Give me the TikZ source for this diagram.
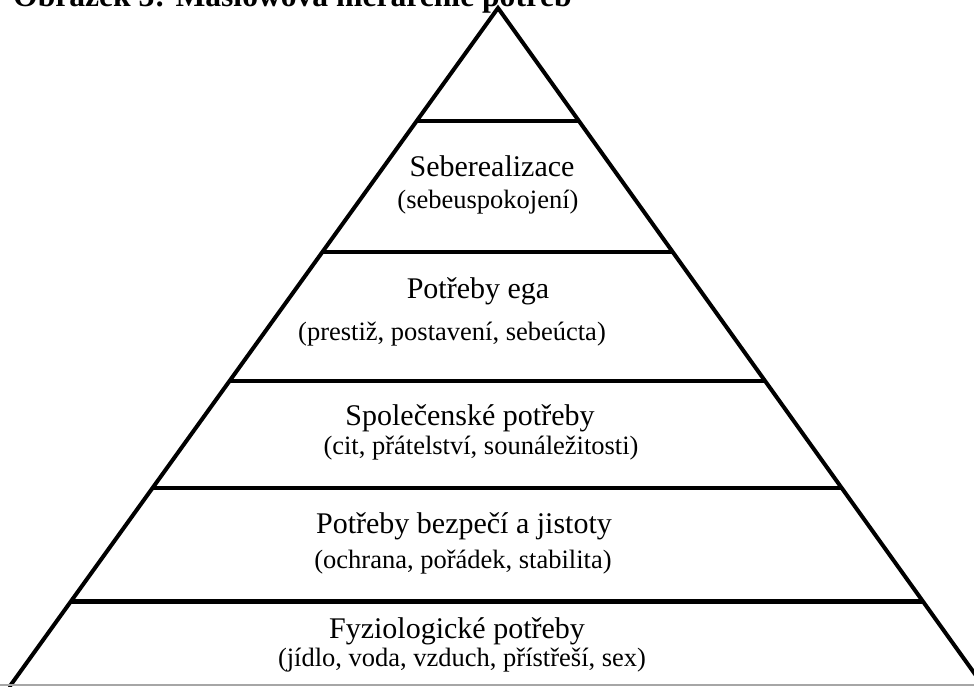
\documentclass[tikz,border=0pt]{standalone}
\usepackage{fontspec}
\setmainfont{Liberation Serif}
\usetikzlibrary{calc}
\begin{document}
\begin{tikzpicture}[x=1pt,y=-1pt,
  side/.style={line width=4pt,line cap=round},
  tier/.style={line width=4.2pt},
  headtxt/.style={anchor=base,inner sep=0pt,font=\fontsize{30}{34}\selectfont},
  subtxt/.style={anchor=base,inner sep=0pt,font=\fontsize{26.5}{30}\selectfont}]
\clip (0,0) rectangle (974,686);
\useasboundingbox (0,0) rectangle (974,686);
\fill[white] (0,0) rectangle (974,686);
% title (cut at top)
\node[anchor=base west,inner sep=0pt,font=\fontsize{31.6}{36}\selectfont\bfseries] (title) at (13,6) {Obrázek 3: Maslowova hierarchie potřeb};
% pyramid
\coordinate (apex) at (498,8);
\coordinate (bl) at (10,686);
\coordinate (br) at (983.5,686);
\draw[side] (bl) -- (apex) -- (br);
% tier lines
\foreach \yy/\w in {121/4.2,252/4.2,381/4.2,488/4.2,601/5} {
  \pgfmathsetmacro\xl{498-0.7198*(\yy-8)}
  \pgfmathsetmacro\xr{498+0.7161*(\yy-8)}
  \draw[line width=\w pt] (\xl,\yy) -- (\xr,\yy);
}
% bottom gray line
\draw[gray!70,line width=1.5pt] (0,685) -- (974,685);
% labels
\node[headtxt] (t1) at (492,176) {Seberealizace};
\node[subtxt]  (s1) at (488,208) {(sebeuspokojení)};
\node[headtxt] (t2) at (478,298) {Potřeby ega};
\node[subtxt]  (s2) at (452,340) {(prestiž, postavení, sebeúcta)};
\node[headtxt] (t3) at (470,425) {Společenské potřeby};
\node[subtxt]  (s3) at (481,454) {(cit, přátelství, sounáležitosti)};
\node[headtxt] (t4) at (464,533) {Potřeby bezpečí a jistoty};
\node[subtxt]  (s4) at (463,568) {(ochrana, pořádek, stabilita)};
\node[headtxt] (t5) at (457,638) {Fyziologické potřeby};
\node[subtxt]  (s5) at (462,666) {(jídlo, voda, vzduch, přístřeší, sex)};
\end{tikzpicture}
\end{document}
